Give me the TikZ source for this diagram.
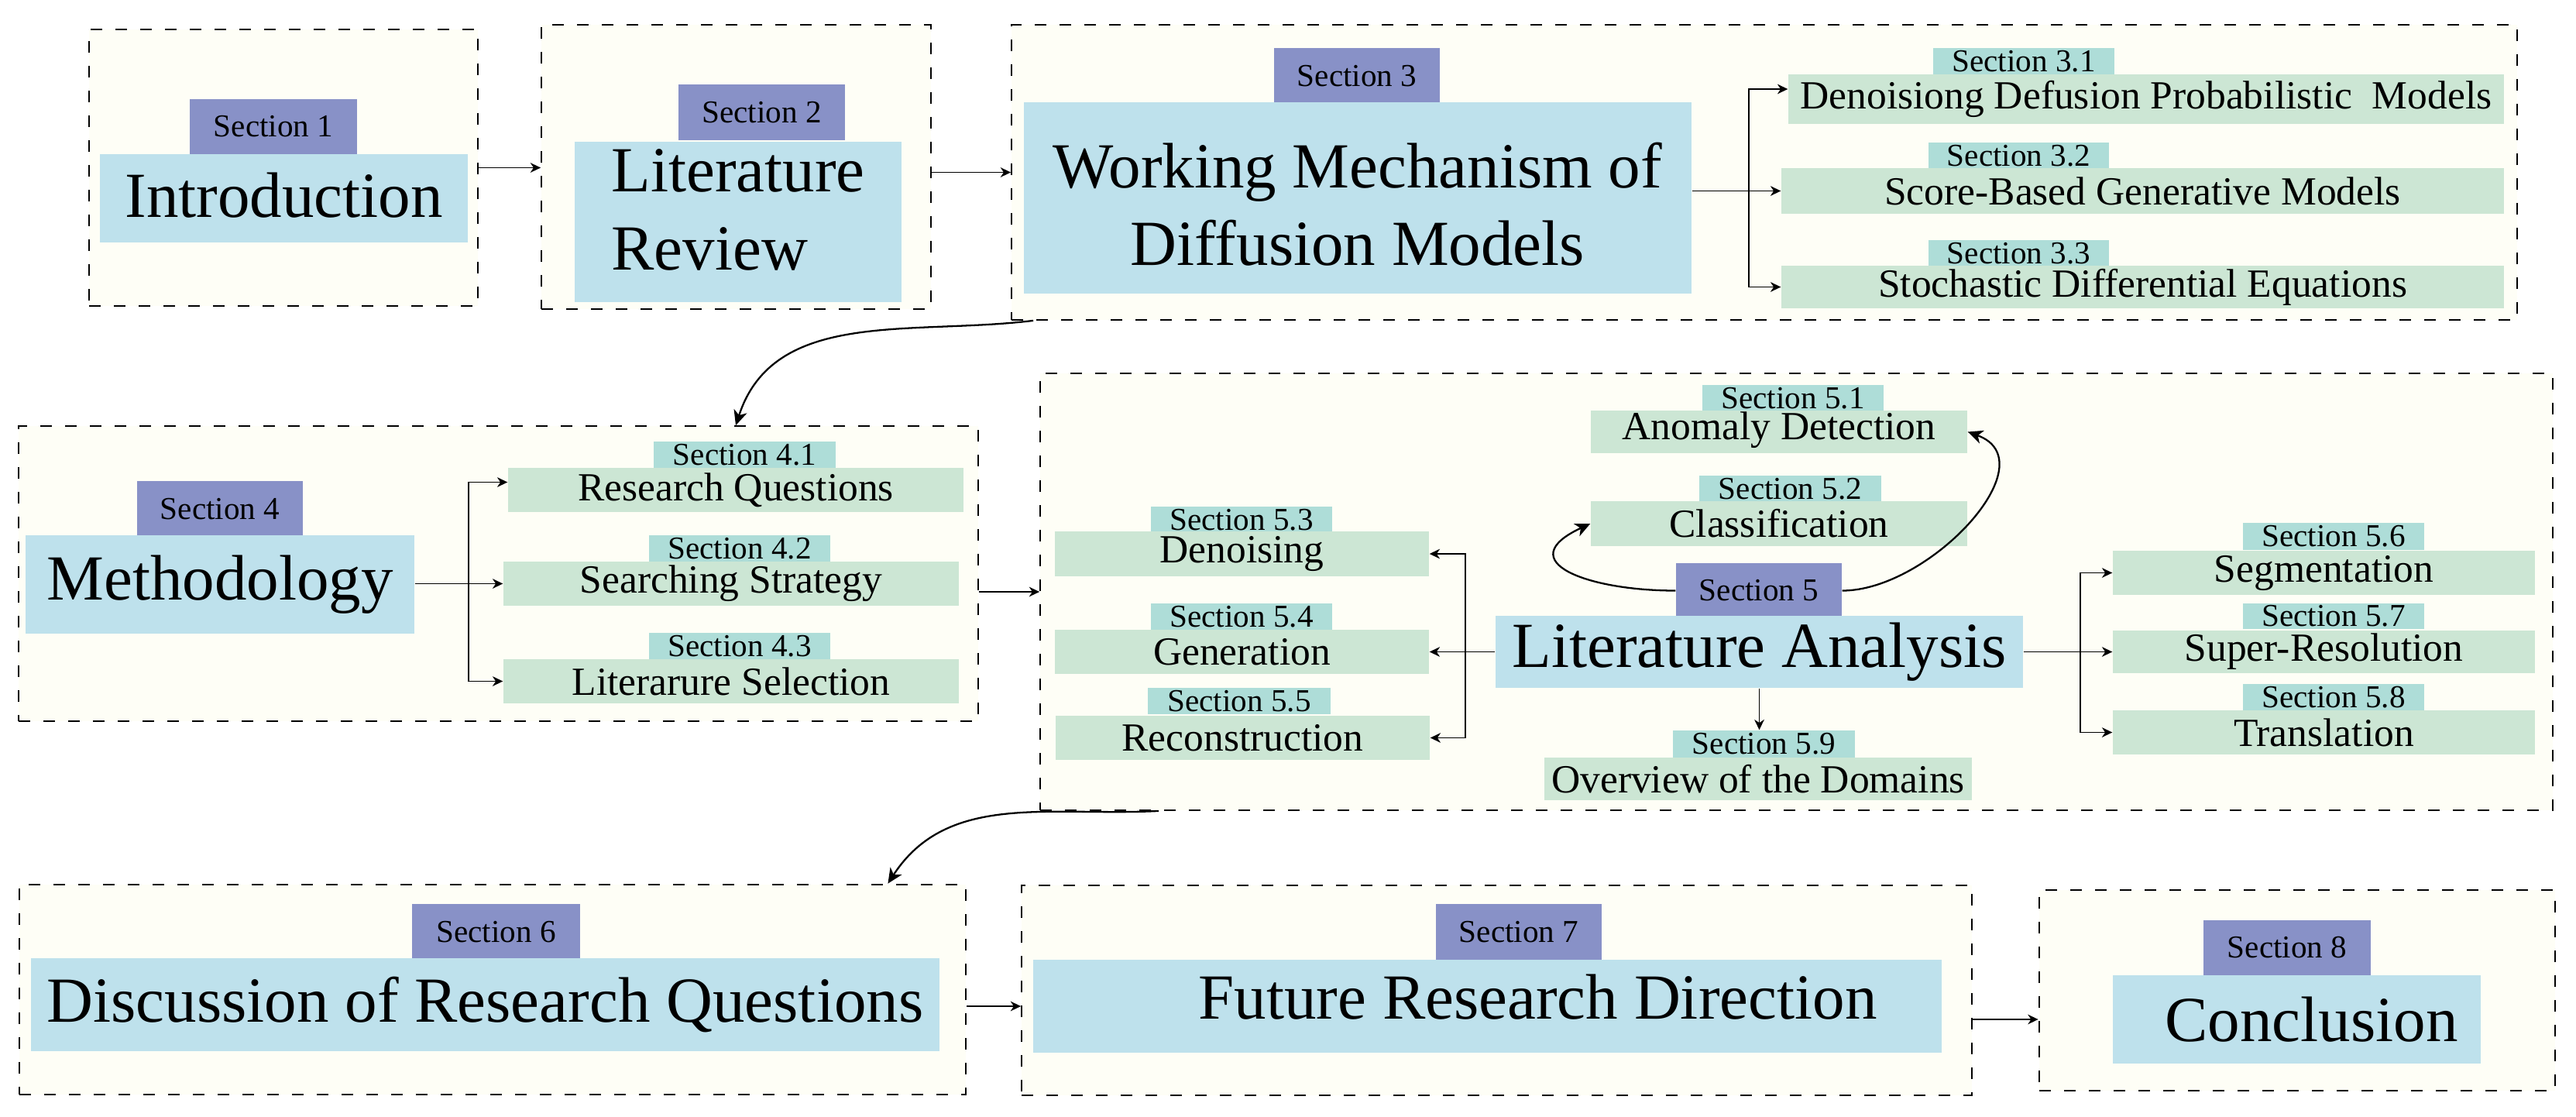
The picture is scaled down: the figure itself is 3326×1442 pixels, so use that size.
\documentclass[tikz,border=0pt]{standalone}
\usepackage{fontspec}
\setmainfont{Liberation Serif}
\usetikzlibrary{arrows.meta,calc}
\definecolor{ivory}{HTML}{FEFEF6}
\definecolor{purp}{HTML}{8891C7}
\definecolor{lblue}{HTML}{BEE1EC}
\definecolor{lgreen}{HTML}{CCE6D4}
\definecolor{tealc}{HTML}{AEDDD8}
% style, name, x1, y1, x2, y2 (pixels, y downwards), text
\newcommand\bx[7]{\node[#1, minimum width={(#5-#3)*0.01cm}, minimum height={(#6-#4)*0.01cm}] (#2) at ({(#3+#5)/2},{-(#4+#6)/2}) {#7};}
\begin{document}
\begin{tikzpicture}[x=0.01cm,y=0.01cm,
  outer/.style={draw=black, fill=ivory, line width=0.5pt, dash pattern=on 4.3pt off 4.8pt, inner sep=0},
  outerb/.style={outer, line width=0.8pt},
  secl/.style={fill=purp, inner sep=0, font=\fontsize{11.7pt}{14pt}\selectfont},
  mainb/.style={fill=lblue, inner sep=0, font=\fontsize{23.6pt}{28.45pt}\selectfont},
  subl/.style={fill=tealc, inner sep=0, font=\fontsize{11.7pt}{14pt}\selectfont},
  item/.style={fill=lgreen, inner sep=0, font=\fontsize{14.65pt}{17.6pt}\selectfont},
  arr/.style={-{Stealth[length=3.8pt,width=3.6pt,inset=1.2pt]}, line width=0.5pt},
  carr/.style={-{Stealth[length=5.5pt,width=5pt,inset=1.6pt]}, line width=0.65pt}
]
\useasboundingbox (0,0) rectangle (3326,-1442);
\fill[white] (0,0) rectangle (3326,-1442);

% outer dashed frames
\bx{outerb}{o1}{115}{38}{617}{395}{}
\bx{outer}{o2}{699}{32}{1202}{399}{}
\bx{outer}{o3}{1306}{32}{3250}{413}{}
\bx{outer}{o4}{24}{550}{1263}{931}{}
\bx{outer}{o5}{1343}{482}{3296}{1046}{}
\bx{outerb}{o6}{25}{1142}{1247}{1413}{}
\bx{outer}{o7}{1319}{1143}{2546}{1414}{}
\bx{outerb}{o8}{2633}{1149}{3299}{1408}{}

% Section 1
\bx{secl}{s1}{245}{128}{461}{199}{Section 1}
\bx{mainb,text height=0.57cm,text depth=0.09cm}{intro}{129}{199}{604}{313}{Introduction}
% Section 2
\bx{secl}{s2}{876}{109}{1091}{181}{Section 2}
\bx{mainb,align=left,text height=1.57cm,text depth=0.34cm}{lr}{742}{183}{1164}{390}{Literature\\Review}
% Section 3
\bx{secl}{s3}{1645}{62}{1859}{134}{Section 3}
\bx{mainb,align=center,text height=1.9cm,text depth=0.17cm}{wm}{1322}{132}{2184}{379}{Working Mechanism of\\Diffusion Models}
\bx{subl}{s31}{2496}{62}{2730}{97}{Section 3.1}
\bx{item}{ddpm}{2309}{96}{3233}{160}{Denoisiong Defusion Probabilistic\ \ Models}
\bx{subl}{s32}{2490}{184}{2723}{219}{Section 3.2}
\bx{item}{sbgm}{2300}{217}{3233}{276}{Score-Based Generative Models}
\bx{subl}{s33}{2490}{310}{2723}{345}{Section 3.3}
\bx{item}{sde}{2300}{343}{3233}{398}{Stochastic Differential Equations}
% Section 4
\bx{secl}{s4}{177}{621}{391}{693}{Section 4}
\bx{mainb}{meth}{33}{691}{535}{818}{Methodology}
\bx{subl}{s41}{844}{570}{1079}{604}{Section 4.1}
\bx{item}{rq}{656}{604}{1244}{661}{Research Questions}
\bx{subl}{s42}{838}{691}{1072}{725}{Section 4.2}
\bx{item}{ss}{650}{725}{1238}{782}{Searching Strategy}
\bx{subl}{s43}{838}{817}{1072}{851}{Section 4.3}
\bx{item}{ls}{650}{851}{1238}{908}{Literarure Selection}
% Section 5
\bx{subl}{s51}{2198}{497}{2432}{532}{Section 5.1}
\bx{item,text height=0.33cm,text depth=0.13cm}{ad}{2054}{530}{2540}{585}{Anomaly Detection}
\bx{subl}{s52}{2194}{614}{2429}{649}{Section 5.2}
\bx{item}{cls}{2054}{647}{2540}{705}{Classification}
\bx{subl}{s53}{1486}{654}{1720}{688}{Section 5.3}
\bx{item}{den}{1362}{686}{1845}{744}{Denoising}
\bx{subl}{s54}{1486}{779}{1720}{813}{Section 5.4}
\bx{item}{gen}{1362}{813}{1845}{870}{Generation}
\bx{subl}{s55}{1482}{888}{1718}{922}{Section 5.5}
\bx{item}{rec}{1363}{924}{1846}{981}{Reconstruction}
\bx{secl}{s5}{2164}{727}{2378}{798}{Section 5}
\bx{mainb}{la}{1931}{795}{2612}{888}{Literature Analysis}
\bx{subl}{s56}{2896}{675}{3130}{710}{Section 5.6}
\bx{item}{seg}{2728}{711}{3273}{768}{Segmentation}
\bx{subl}{s57}{2896}{779}{3130}{812}{Section 5.7}
\bx{item}{sr}{2728}{814}{3273}{869}{Super-Resolution}
\bx{subl}{s58}{2896}{883}{3130}{917}{Section 5.8}
\bx{item}{tr}{2728}{917}{3273}{974}{Translation}
\bx{subl}{s59}{2160}{943}{2395}{978}{Section 5.9}
\bx{item}{ov}{1994}{978}{2546}{1033}{Overview of the Domains}
% Sections 6-8
\bx{secl}{s6}{532}{1167}{749}{1239}{Section 6}
\bx{mainb}{dq}{40}{1237}{1213}{1357}{Discussion of Research Questions}
\bx{secl}{s7}{1854}{1167}{2068}{1240}{Section 7}
\bx{mainb,text height=0.57cm,text depth=0.25cm}{frd}{1334}{1239}{2507}{1359}{\hspace*{1.3cm}Future Research Direction}
\bx{secl}{s8}{2845}{1188}{3061}{1259}{Section 8}
\bx{mainb}{conc}{2728}{1259}{3203}{1373}{\hspace*{0.38cm}Conclusion}

% connectors
\draw[arr] (o1.east) -- (o1.east -| o2.west);
\draw[arr] (o2.east |- o3.west) -- (o3.west);
\draw[arr] (wm.east |- sbgm.west) -- (sbgm.west);
\coordinate (j3) at ($(wm.east |- sbgm.west)+(73,0)$);
\draw[arr] (j3) |- ($(ddpm.west)+(0,13)$);
\draw[arr] (j3) |- (sde.west);

\draw[carr] ($(o3.south west)+(29,0)$) to[out=187,in=72] (rq.north |- o4.north);

\draw[arr] (meth.east |- ss.west) -- (ss.west);
\coordinate (j4) at (605,0 |- ss.west);
\draw[arr] (j4) |- ($(rq.west)+(0,10)$);
\draw[arr] (j4) |- (ls.west);
\draw[arr] (o4.east |- o5.west) -- (o5.west);

\draw[arr] (la.west) -- (gen.east);
\coordinate (j5l) at (1892,0 |- la.west);
\draw[arr] (j5l) |- (den.east);
\draw[arr] (j5l) |- (rec.east);
\draw[arr] (la.east) -- (sr.west);
\coordinate (j5r) at (2686,0 |- la.east);
\draw[arr] (j5r) |- (seg.west);
\draw[arr] (j5r) |- (tr.west);
\draw[arr] (la.south) -- (la.south |- s59.north);
\draw[carr] (s5.west) to[out=180,in=205,looseness=2.1] (cls.west);
\draw[carr] (s5.east) to[out=0,in=-20,looseness=1.1] (ad.east);

\draw[carr] ($(o5.south west)+(154,0)$) to[out=183,in=57] ($(o6.north east)+(-102,0)$);
\draw[arr] (o6.east |- frd.west) -- (o7.west |- frd.west);
\draw[arr] (o7.east |- conc.west) -- (o8.west |- conc.west);
\end{tikzpicture}
\end{document}
